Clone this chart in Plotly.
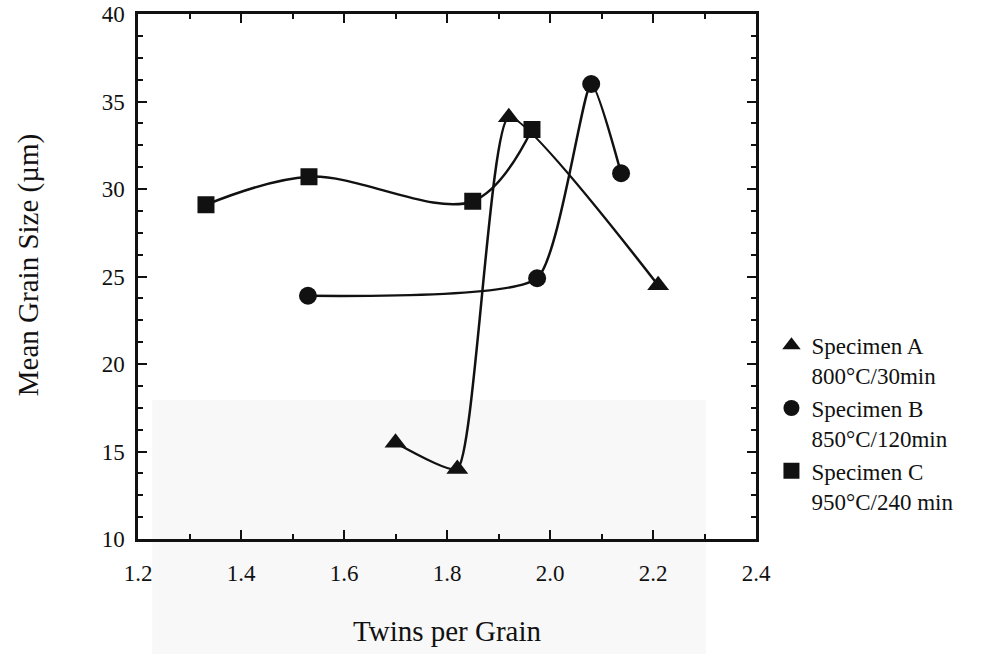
import plotly.graph_objects as go

# Twins per grain (x) vs mean grain size in µm (y) for three specimens
a_twins = [1.70, 1.82, 1.92, 2.21]
a_size = [15.5, 14.0, 34.1, 24.5]
b_twins = [1.53, 1.975, 2.08, 2.138]
b_size = [23.9, 24.9, 36.0, 30.9]
c_twins = [1.332, 1.532, 1.85, 1.965]
c_size = [29.1, 30.7, 29.3, 33.4]

names = ["Specimen A<br>800°C/30min",
         "Specimen B<br>850°C/120min",
         "Specimen C<br>950°C/240 min"]
symbols = ["triangle-up", "circle", "square"]
sizes = [19, 18, 17]
smooth = [0.45, 0.5, 1.0]

FONT = "Liberation Serif, Times New Roman, serif"
INK = "#111111"

fig = go.Figure()
series = [(a_twins, a_size), (b_twins, b_size), (c_twins, c_size)]
for (xs, ys), sym, sz, sm in zip(series, symbols, sizes, smooth):
    fig.add_trace(go.Scatter(
        x=xs, y=ys, mode="lines+markers",
        line=dict(color=INK, width=2.5, shape="spline", smoothing=sm),
        marker=dict(symbol=sym, size=sz, color=INK),
        showlegend=False, hoverinfo="x+y"))

# marker-only legend entries
for i, (nm, sym, sz) in enumerate(zip(names, symbols, sizes)):
    fig.add_trace(go.Scatter(
        x=[None], y=[None], mode="markers", name=nm,
        marker=dict(symbol=sym, size=sz, color=INK),
        legendgroup=f"g{i}"))

axis_common = dict(
    showline=True, linecolor=INK, linewidth=2.5, mirror="ticks",
    ticks="inside", ticklen=9, tickwidth=2, tickcolor=INK,
    showgrid=False, zeroline=False, automargin=False,
    tickfont=dict(family=FONT, size=23, color=INK),
)

fig.update_xaxes(range=[1.2, 2.4], tick0=1.2, dtick=0.2, tickformat=".1f",
                 minor=dict(dtick=0.1, ticks="inside", ticklen=5, tickwidth=1.5,
                            tickcolor=INK),
                 ticklabelstandoff=12, **axis_common)
fig.update_yaxes(range=[10, 40], tick0=10, dtick=5,
                 minor=dict(dtick=1.25, ticks="inside", ticklen=5, tickwidth=1.5,
                            tickcolor=INK),
                 ticklabelstandoff=6, **axis_common)

fig.update_layout(
    width=984, height=654,
    margin=dict(l=138, r=228, t=14, b=115, autoexpand=False),
    paper_bgcolor="white", plot_bgcolor="white",
    font=dict(family=FONT, color=INK),
    legend=dict(x=1.025, y=0.41, xanchor="left", yanchor="top",
                valign="top",
                font=dict(family=FONT, size=23, color=INK),
                tracegroupgap=0, itemsizing="trace",
                bgcolor="rgba(0,0,0,0)"),
    annotations=[
        dict(text="Twins per Grain", xref="paper", yref="paper",
             x=0.5, y=-0.175, xanchor="center", yanchor="middle",
             showarrow=False, font=dict(family=FONT, size=29, color=INK)),
        dict(text="Mean Grain Size (µm)", xref="paper", yref="paper",
             x=-0.176, y=0.522, xanchor="center", yanchor="middle", textangle=-90,
             showarrow=False, font=dict(family=FONT, size=29, color=INK)),
    ],
    shapes=[
        dict(type="rect", xref="paper", yref="paper",
             x0=0.0227, x1=0.919, y0=-0.22, y1=0.265,
             fillcolor="rgba(0,0,0,0.028)", line=dict(width=0), layer="below"),
    ],
)

fig.write_html("out.html")
